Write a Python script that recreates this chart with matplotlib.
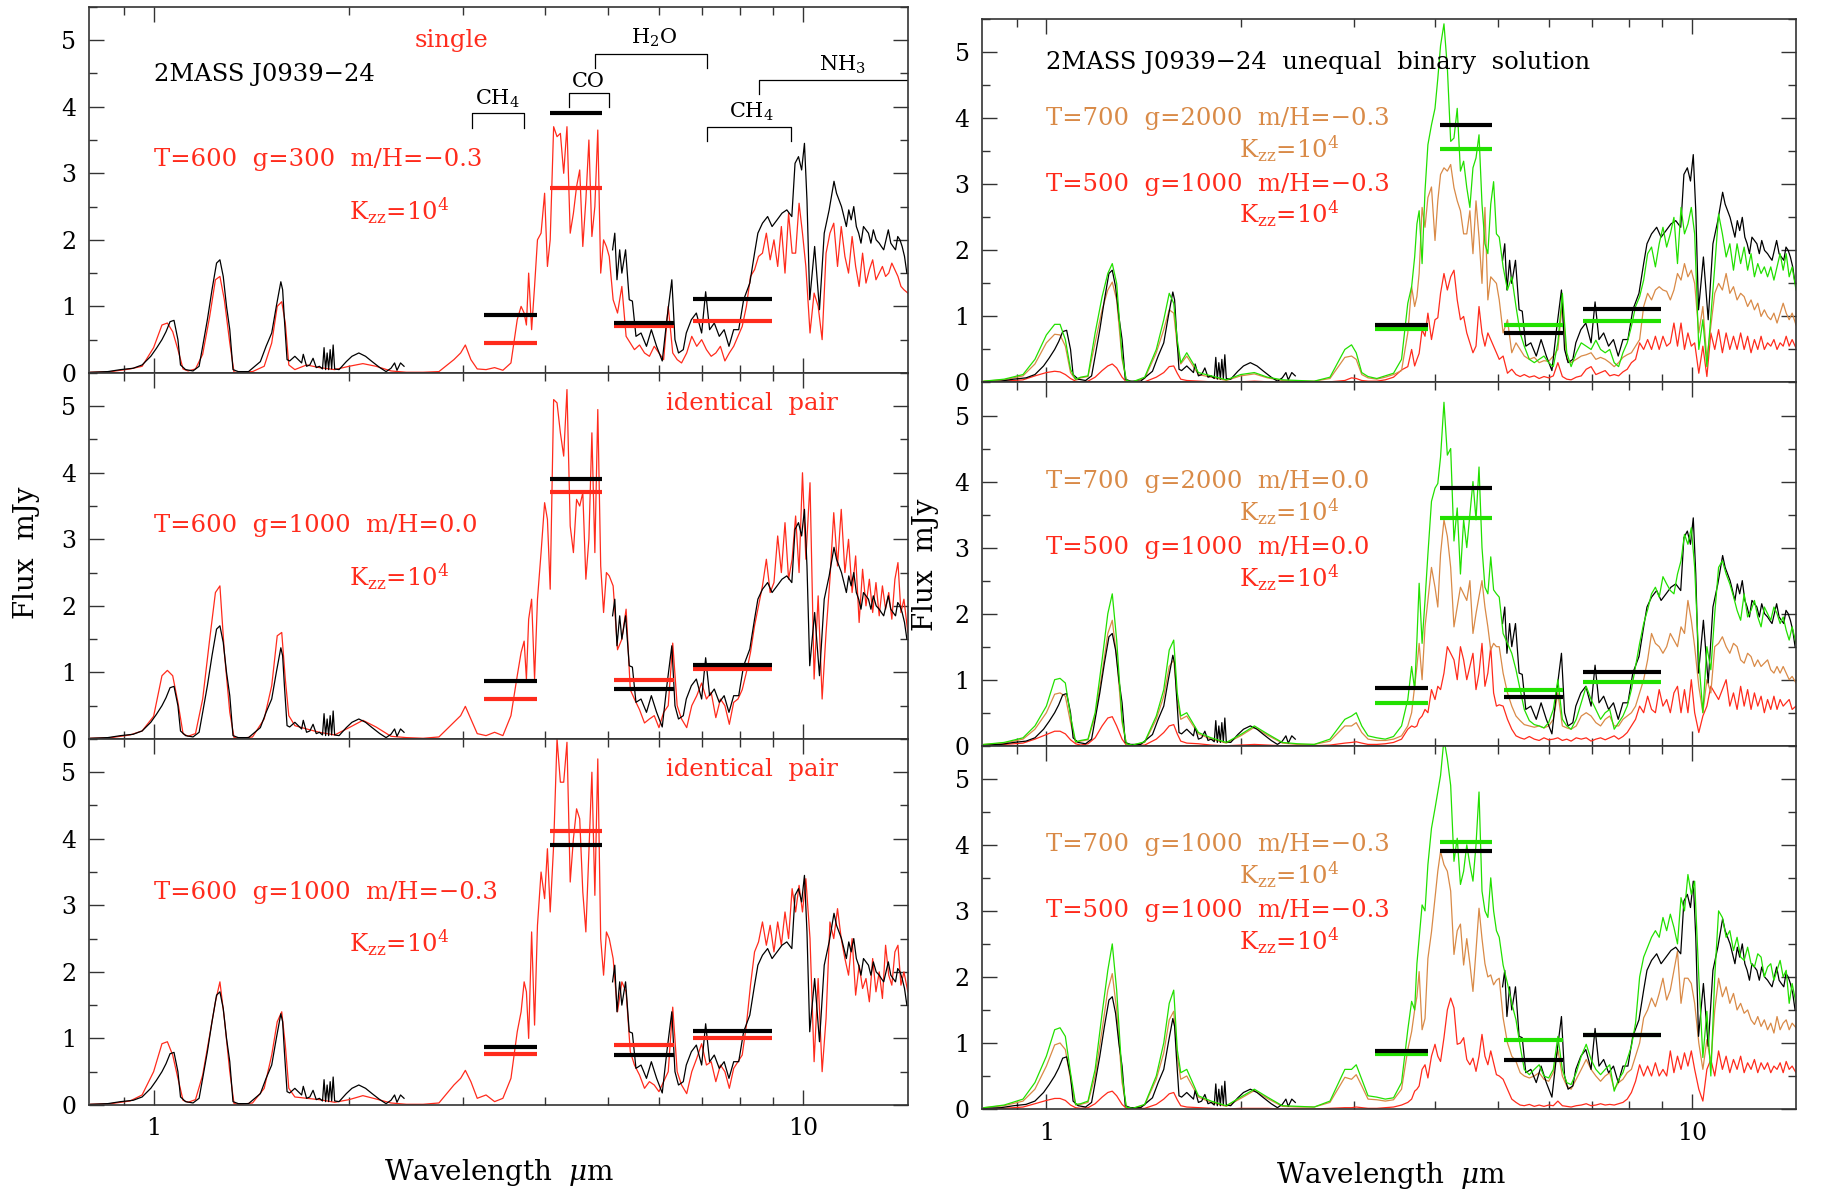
import numpy as np
import matplotlib
matplotlib.use('Agg')
import matplotlib.pyplot as plt
from matplotlib.ticker import FixedLocator, MultipleLocator

plt.rcParams.update({'font.family': 'DejaVu Serif', 'mathtext.fontset': 'dejavuserif',
                     'font.size': 17})

RED, ORANGE, GREEN, BLACK = '#ff2b1c', '#d98a47', '#22e000', 'black'

# ---------------- data ----------------
# model wavelength grid (micron): near-IR, 3-5 um, mid-IR
wl_model = [0.80, 0.86, 0.92, 0.96, 1.00, 1.03, 1.05, 1.07, 1.09, 1.11,
            1.13, 1.16, 1.19, 1.22, 1.245, 1.265, 1.285, 1.31, 1.33, 1.36,
            1.42, 1.48, 1.52, 1.55, 1.575, 1.595, 1.615, 1.65, 1.72, 1.80,
            1.90, 2.00, 2.10, 2.20, 2.32, 2.45, 2.60, 2.75, 2.90,
            2.97, 3.02, 3.08, 3.15, 3.25, 3.35, 3.45, 3.55, 3.63, 3.68,
            3.72, 3.75, 3.78, 3.82, 3.86, 3.90, 3.95, 4.00, 4.04, 4.08,
            4.13, 4.18, 4.23, 4.28, 4.33, 4.38, 4.43, 4.48, 4.53, 4.58,
            4.63, 4.68, 4.73, 4.78, 4.83, 4.88, 4.93, 4.98, 5.03,
            5.10, 5.18, 5.26, 5.34, 5.42, 5.50, 5.60, 5.70, 5.80, 5.90,
            6.00, 6.10, 6.20, 6.30, 6.40, 6.50, 6.62, 6.74, 6.86, 6.98,
            7.10, 7.22, 7.34, 7.46, 7.58, 7.70, 7.82, 7.94, 8.06, 8.18,
            8.30, 8.42, 8.54, 8.66, 8.78, 8.90, 9.02, 9.14, 9.26, 9.38,
            9.50, 9.62, 9.74, 9.86, 9.98, 10.1, 10.25, 10.4, 10.55, 10.7,
            10.85, 11.0, 11.15, 11.3, 11.45, 11.6, 11.75, 11.9, 12.05, 12.2,
            12.35, 12.5, 12.65, 12.8, 12.95, 13.1, 13.25, 13.4, 13.55, 13.7,
            13.85, 14.0, 14.15, 14.3, 14.5]

# left column: single / identical-pair models (red)
single_600_300 = [0.01, 0.02, 0.06, 0.10, 0.38, 0.72, 0.75, 0.62, 0.35, 0.06,
                  0.03, 0.06, 0.28, 0.85, 1.40, 1.45, 1.10, 0.45, 0.01, 0.01,
                  0.02, 0.10, 0.45, 1.00, 1.07, 0.75, 0.12, 0.05, 0.12, 0.08,
                  0.05, 0.10, 0.14, 0.10, 0.03, 0.01, 0.01, 0.02, 0.20,
                  0.30, 0.42, 0.20, 0.06, 0.05, 0.08, 0.04, 0.15, 0.80, 1.00,
                  0.90, 0.72, 1.50, 0.65, 1.30, 2.00, 2.10, 2.70, 1.60, 2.00,
                  3.70, 3.55, 3.60, 3.00, 3.70, 2.10, 2.40, 2.80, 3.05, 1.90,
                  2.60, 3.50, 2.05, 2.50, 3.65, 1.50, 2.00, 1.90, 1.75,
                  1.10, 0.90, 1.30, 0.55, 0.45, 0.35, 0.42, 0.30, 0.25, 0.40,
                  0.30, 0.20, 1.00, 0.30, 0.20, 0.15, 0.30, 0.55, 0.40, 0.50,
                  0.35, 0.25, 0.30, 0.40, 0.18, 0.30, 0.40, 0.55, 0.70, 1.00,
                  1.45, 1.55, 1.75, 1.80, 2.10, 1.70, 2.00, 1.60, 2.20, 1.50,
                  2.40, 1.80, 1.80, 2.55, 2.10, 1.60, 0.60, 1.20, 1.00, 0.50,
                  1.80, 2.10, 2.25, 1.60, 2.20, 1.75, 1.50, 2.05, 1.60, 1.30,
                  1.80, 1.35, 1.55, 1.70, 1.40, 1.50, 1.60, 1.45, 1.50, 1.65,
                  1.55, 1.45, 1.30, 1.25, 1.20]
pair_600_1000_00 = [0.01, 0.02, 0.06, 0.12, 0.34, 0.95, 1.03, 0.95, 0.55, 0.08,
                    0.04, 0.08, 0.60, 1.50, 2.20, 2.30, 1.30, 0.40, 0.02, 0.01,
                    0.03, 0.30, 0.80, 1.55, 1.60, 0.90, 0.35, 0.20, 0.15, 0.10,
                    0.06, 0.17, 0.28, 0.18, 0.04, 0.02, 0.01, 0.03, 0.25,
                    0.35, 0.49, 0.30, 0.08, 0.05, 0.10, 0.05, 0.35, 0.95, 1.30,
                    1.47, 0.90, 1.80, 2.10, 0.90, 2.10, 2.80, 3.55, 3.30, 2.25,
                    5.10, 5.05, 4.60, 4.25, 5.25, 3.20, 2.80, 3.60, 3.50, 3.70,
                    2.40, 3.00, 4.60, 2.80, 4.95, 2.60, 1.90, 2.50, 2.45,
                    2.30, 1.34, 1.50, 1.95, 0.74, 0.60, 0.44, 0.24, 0.30, 0.35,
                    0.17, 0.40, 0.50, 1.44, 0.50, 0.30, 0.17, 0.50, 0.65, 0.84,
                    0.60, 0.70, 0.32, 0.60, 0.50, 0.22, 0.55, 0.60, 0.74, 1.00,
                    1.30, 1.70, 2.00, 2.30, 2.70, 2.20, 2.35, 3.05, 2.50, 3.25,
                    2.40, 2.70, 3.35, 2.50, 4.00, 2.70, 3.85, 0.90, 2.15, 0.60,
                    1.60, 2.40, 3.40, 2.60, 3.45, 2.50, 3.00, 2.20, 2.75, 1.75,
                    2.55, 2.00, 2.40, 1.90, 2.35, 1.85, 2.30, 1.95, 2.20, 1.80,
                    2.40, 2.65, 1.90, 2.10, 1.60]
pair_600_1000_m03 = [0.01, 0.02, 0.06, 0.15, 0.50, 0.92, 0.95, 0.75, 0.40, 0.07,
                     0.04, 0.08, 0.45, 1.05, 1.55, 1.85, 1.30, 0.50, 0.02, 0.01,
                     0.03, 0.25, 0.75, 1.25, 1.40, 0.90, 0.25, 0.12, 0.10, 0.08,
                     0.04, 0.08, 0.14, 0.09, 0.03, 0.01, 0.01, 0.03, 0.30,
                     0.40, 0.52, 0.35, 0.10, 0.15, 0.05, 0.10, 0.40, 1.10, 1.40,
                     1.85, 1.70, 1.00, 2.60, 1.20, 2.70, 3.50, 3.10, 3.85, 2.90,
                     3.90, 5.50, 4.85, 4.85, 5.45, 3.35, 4.00, 4.45, 4.30, 3.20,
                     2.60, 3.80, 5.00, 3.15, 5.20, 2.50, 1.95, 2.60, 2.50,
                     2.20, 1.40, 1.85, 1.70, 0.80, 0.60, 0.45, 0.25, 0.35, 0.30,
                     0.20, 0.35, 0.50, 1.47, 0.50, 0.30, 0.17, 0.50, 0.70, 0.92,
                     0.60, 0.65, 0.35, 0.60, 0.50, 0.25, 0.55, 0.65, 0.75, 1.20,
                     1.80, 2.30, 2.45, 2.75, 2.40, 2.70, 2.30, 2.75, 2.40, 2.90,
                     2.50, 3.25, 2.90, 3.30, 2.90, 3.40, 2.50, 0.65, 1.90, 0.50,
                     1.30, 2.75, 2.50, 2.95, 2.50, 2.20, 1.95, 2.50, 1.65, 2.10,
                     1.75, 1.90, 1.55, 2.20, 1.70, 2.00, 1.60, 2.40, 1.95, 1.80,
                     2.30, 2.40, 1.80, 2.00, 1.70]

# right column: unequal binary (green = sum, orange = T700, red = T500)
bin1_sum = [0.02, 0.05, 0.12, 0.35, 0.72, 0.88, 0.88, 0.65, 0.20, 0.05,
            0.08, 0.10, 0.75, 1.30, 1.65, 1.80, 1.50, 0.40, 0.03, 0.01,
            0.08, 0.50, 0.95, 1.35, 1.20, 0.65, 0.30, 0.45, 0.15, 0.10,
            0.04, 0.12, 0.15, 0.08, 0.04, 0.03, 0.02, 0.08, 0.50,
            0.57, 0.45, 0.15, 0.09, 0.06, 0.10, 0.14, 0.35, 1.20, 1.45,
            1.90, 2.40, 2.60, 1.80, 2.90, 3.60, 3.90, 4.15, 4.60, 5.10,
            5.43, 4.77, 3.65, 3.70, 4.15, 3.20, 3.35, 2.95, 2.65, 3.25,
            3.40, 3.75, 2.70, 2.10, 1.95, 2.70, 3.04, 2.25, 2.20,
            1.75, 1.40, 1.60, 1.15, 0.75, 0.55, 0.35, 0.30, 0.35, 0.40,
            0.30, 0.24, 0.60, 1.35, 0.45, 0.24, 0.45, 0.60, 0.55, 0.50,
            0.64, 0.50, 0.45, 0.50, 0.30, 0.24, 0.45, 0.60, 0.85, 1.15,
            1.30, 1.55, 1.95, 2.05, 1.75, 2.10, 2.35, 2.05, 2.25, 2.50,
            1.80, 2.65, 2.25, 2.40, 2.65, 2.25, 0.50, 0.95, 0.24, 1.00,
            1.75, 2.55, 2.25, 1.90, 2.10, 1.70, 2.10, 1.80, 2.05, 1.70,
            1.95, 1.60, 1.80, 1.65, 1.75, 1.60, 1.75, 1.55, 1.75, 1.95,
            1.70, 1.95, 1.60, 1.75, 1.40]
bin1_hot = [0.02, 0.04, 0.10, 0.28, 0.60, 0.73, 0.72, 0.55, 0.15, 0.04,
            0.07, 0.09, 0.60, 1.10, 1.40, 1.52, 1.25, 0.35, 0.03, 0.01,
            0.06, 0.45, 0.80, 1.10, 1.05, 0.55, 0.28, 0.40, 0.12, 0.08,
            0.03, 0.10, 0.13, 0.07, 0.03, 0.02, 0.02, 0.06, 0.38,
            0.40, 0.35, 0.12, 0.07, 0.05, 0.08, 0.12, 0.18, 0.75, 1.45,
            1.15, 1.30, 1.65, 2.65, 2.35, 2.80, 2.96, 2.15, 2.75, 3.15,
            3.25, 3.20, 3.30, 2.95, 2.75, 2.60, 2.25, 2.25, 2.60, 1.95,
            2.75, 2.20, 1.50, 2.65, 1.25, 1.60, 1.55, 1.50, 1.25,
            0.75, 0.95, 0.45, 0.60, 0.50, 0.40, 0.35, 0.38, 0.30, 0.33,
            0.32, 0.40, 0.50, 1.20, 0.35, 0.30, 0.35, 0.40, 0.42, 0.45,
            0.35, 0.38, 0.35, 0.30, 0.24, 0.30, 0.38, 0.42, 0.45, 0.55,
            0.65, 1.15, 1.35, 1.25, 1.40, 1.45, 1.40, 1.38, 1.25, 1.40,
            1.65, 1.55, 1.80, 1.60, 1.70, 1.50, 0.75, 1.15, 0.35, 0.85,
            1.35, 1.50, 1.40, 1.65, 1.35, 1.45, 1.25, 1.35, 1.30, 1.15,
            1.25, 1.10, 1.20, 1.00, 1.10, 1.00, 0.95, 1.05, 0.90, 1.05,
            1.20, 1.05, 0.95, 1.05, 0.87]
bin1_cool = [0.01, 0.02, 0.04, 0.10, 0.15, 0.17, 0.16, 0.12, 0.06, 0.02,
             0.01, 0.02, 0.08, 0.18, 0.25, 0.28, 0.22, 0.08, 0.01, 0.00,
             0.01, 0.08, 0.15, 0.24, 0.25, 0.14, 0.05, 0.03, 0.02, 0.01,
             0.00, 0.01, 0.02, 0.01, 0.00, 0.00, 0.00, 0.01, 0.03,
             0.07, 0.06, 0.03, 0.02, 0.02, 0.04, 0.08, 0.19, 0.24, 0.50,
             0.25, 0.35, 0.44, 0.80, 0.70, 1.05, 0.65, 0.95, 0.98, 1.35,
             1.65, 1.40, 1.60, 1.70, 1.25, 0.95, 1.00, 0.75, 0.60, 0.45,
             0.55, 1.15, 0.75, 0.55, 0.75, 0.65, 0.55, 0.45, 0.35,
             0.40, 0.14, 0.20, 0.12, 0.09, 0.12, 0.08, 0.10, 0.06, 0.09,
             0.07, 0.10, 0.30, 0.09, 0.05, 0.04, 0.08, 0.10, 0.20, 0.24,
             0.12, 0.15, 0.18, 0.10, 0.12, 0.10, 0.16, 0.20, 0.30, 0.35,
             0.60, 0.50, 0.65, 0.50, 0.70, 0.50, 0.70, 0.55, 0.60, 0.90,
             0.55, 0.90, 0.50, 0.75, 0.55, 0.60, 0.14, 0.55, 0.09, 0.75,
             0.50, 0.80, 0.45, 0.75, 0.50, 0.70, 0.50, 0.75, 0.50, 0.70,
             0.45, 0.65, 0.50, 0.70, 0.50, 0.60, 0.55, 0.65, 0.50, 0.60,
             0.55, 0.70, 0.55, 0.65, 0.52]
bin2_sum = [0.02, 0.05, 0.12, 0.30, 0.60, 1.00, 1.02, 0.95, 0.45, 0.06,
            0.08, 0.10, 0.50, 1.30, 2.00, 2.30, 1.60, 0.40, 0.03, 0.01,
            0.06, 0.45, 0.85, 1.45, 1.60, 0.80, 0.45, 0.50, 0.20, 0.12,
            0.05, 0.17, 0.30, 0.18, 0.05, 0.03, 0.02, 0.10, 0.40,
            0.45, 0.50, 0.30, 0.15, 0.12, 0.10, 0.14, 0.30, 0.70, 1.20,
            0.85, 1.60, 2.46, 1.55, 2.20, 2.90, 3.70, 3.90, 3.97, 4.37,
            5.20, 4.40, 4.50, 3.10, 3.60, 2.60, 3.42, 3.00, 3.50, 4.00,
            3.42, 4.22, 3.00, 2.40, 2.30, 2.86, 2.36, 2.30, 2.25,
            1.70, 1.55, 1.40, 1.15, 0.85, 0.55, 0.38, 0.32, 0.30, 0.27,
            0.35, 0.55, 1.00, 0.40, 0.30, 0.25, 0.40, 0.65, 0.90, 0.70,
            0.55, 0.40, 0.50, 0.55, 0.25, 0.35, 0.45, 0.60, 0.85, 1.20,
            1.55, 1.85, 2.06, 2.30, 2.40, 2.25, 2.56, 2.45, 2.35, 2.30,
            2.60, 2.80, 3.20, 3.05, 3.30, 2.70, 1.30, 0.50, 1.50, 1.15,
            2.00, 2.70, 2.80, 2.60, 2.45, 2.26, 2.05, 1.90, 2.30, 1.95,
            2.05, 2.20, 1.95, 1.80, 2.10, 2.00, 1.90, 2.10, 2.00, 1.85,
            1.95, 1.75, 1.60, 1.80, 1.55]
bin2_hot = [0.02, 0.04, 0.10, 0.25, 0.50, 0.78, 0.80, 0.75, 0.35, 0.05,
            0.07, 0.09, 0.45, 1.10, 1.70, 1.90, 1.35, 0.35, 0.03, 0.01,
            0.05, 0.40, 0.75, 1.20, 1.30, 0.70, 0.40, 0.45, 0.18, 0.10,
            0.04, 0.15, 0.28, 0.16, 0.04, 0.02, 0.02, 0.07, 0.30,
            0.30, 0.35, 0.20, 0.10, 0.08, 0.08, 0.10, 0.15, 0.30, 0.50,
            0.90, 1.20, 1.55, 1.00, 1.80, 2.20, 2.70, 2.40, 2.10, 2.90,
            3.42, 3.17, 2.70, 1.80, 2.10, 2.40, 2.30, 2.20, 2.50, 1.70,
            2.00, 2.26, 2.50, 2.10, 1.80, 1.45, 1.55, 1.50, 1.50,
            1.10, 0.80, 0.60, 0.45, 0.38, 0.32, 0.30, 0.28, 0.30, 0.27,
            0.30, 0.40, 0.80, 0.30, 0.27, 0.25, 0.30, 0.45, 0.50, 0.45,
            0.35, 0.30, 0.40, 0.45, 0.30, 0.30, 0.40, 0.45, 0.50, 0.60,
            0.80, 1.00, 1.30, 1.70, 1.55, 1.50, 1.40, 1.50, 1.70, 1.60,
            1.50, 1.80, 1.70, 2.20, 1.90, 1.50, 0.90, 0.50, 1.00, 0.80,
            1.50, 1.55, 1.65, 1.50, 1.40, 1.55, 1.50, 1.30, 1.25, 1.40,
            1.35, 1.20, 1.30, 1.20, 1.25, 1.30, 1.15, 1.10, 1.20, 1.10,
            1.20, 1.10, 1.00, 1.05, 0.95]
bin2_cool = [0.01, 0.02, 0.04, 0.10, 0.17, 0.22, 0.22, 0.18, 0.09, 0.03,
             0.01, 0.03, 0.12, 0.30, 0.42, 0.44, 0.30, 0.10, 0.01, 0.00,
             0.01, 0.10, 0.20, 0.30, 0.32, 0.18, 0.07, 0.04, 0.03, 0.01,
             0.00, 0.01, 0.02, 0.01, 0.00, 0.00, 0.00, 0.01, 0.04,
             0.05, 0.06, 0.04, 0.02, 0.02, 0.03, 0.05, 0.10, 0.25, 0.30,
             0.28, 0.30, 0.40, 0.45, 0.55, 0.50, 0.85, 0.70, 0.90, 0.85,
             1.10, 1.50, 1.40, 1.30, 1.00, 1.50, 1.30, 1.00, 1.20, 1.40,
             0.85, 1.10, 1.55, 0.90, 1.10, 1.50, 0.80, 0.60, 0.62,
             0.60, 0.40, 0.25, 0.15, 0.12, 0.10, 0.14, 0.10, 0.08, 0.12,
             0.09, 0.10, 0.12, 0.08, 0.10, 0.07, 0.12, 0.10, 0.12, 0.07,
             0.10, 0.12, 0.09, 0.12, 0.15, 0.10, 0.14, 0.20, 0.30, 0.40,
             0.60, 0.50, 0.75, 0.55, 0.50, 0.85, 0.60, 0.70, 0.50, 0.80,
             0.90, 0.50, 0.85, 0.50, 1.00, 0.50, 0.20, 0.45, 0.60, 0.90,
             0.80, 0.70, 0.85, 1.00, 0.60, 0.80, 0.55, 0.90, 0.60, 0.85,
             0.55, 0.80, 0.60, 0.75, 0.50, 0.70, 0.55, 0.75, 0.55, 0.70,
             0.60, 0.65, 0.70, 0.55, 0.60]
bin3_sum = [0.02, 0.06, 0.15, 0.40, 0.80, 1.20, 1.23, 1.10, 0.55, 0.07,
            0.08, 0.12, 0.60, 1.45, 2.10, 2.50, 1.80, 0.50, 0.03, 0.01,
            0.07, 0.50, 1.00, 1.60, 1.80, 0.90, 0.55, 0.60, 0.20, 0.12,
            0.05, 0.18, 0.30, 0.18, 0.05, 0.04, 0.03, 0.12, 0.60,
            0.60, 0.67, 0.45, 0.20, 0.18, 0.15, 0.17, 0.40, 1.20, 1.63,
            1.50, 2.20, 2.58, 3.09, 3.00, 3.70, 4.25, 4.55, 4.80, 5.05,
            5.60, 5.30, 4.90, 3.75, 4.10, 3.40, 3.60, 4.00, 3.70, 3.45,
            4.00, 4.80, 3.30, 3.00, 2.90, 3.50, 3.00, 2.70, 2.60,
            2.18, 1.90, 1.60, 1.35, 0.95, 0.60, 0.52, 0.60, 0.67, 0.50,
            0.47, 0.60, 1.10, 0.60, 0.40, 0.37, 0.55, 0.80, 0.98, 0.75,
            0.60, 0.52, 0.60, 0.67, 0.27, 0.45, 0.55, 0.75, 0.95, 1.30,
            2.00, 2.30, 2.45, 2.60, 2.70, 2.60, 2.90, 2.70, 2.95, 2.75,
            2.50, 3.20, 3.00, 3.55, 3.25, 3.45, 2.00, 0.78, 1.48, 0.50,
            2.00, 3.00, 2.90, 2.60, 2.70, 2.40, 2.60, 2.30, 2.25, 2.45,
            2.20, 2.15, 2.35, 2.30, 2.00, 2.15, 2.20, 1.95, 2.10, 2.25,
            2.00, 2.10, 1.60, 1.90, 1.60]
bin3_hot = [0.02, 0.05, 0.12, 0.30, 0.65, 0.97, 1.00, 0.90, 0.45, 0.06,
            0.07, 0.10, 0.50, 1.20, 1.80, 2.05, 1.50, 0.40, 0.03, 0.01,
            0.06, 0.45, 0.85, 1.35, 1.48, 0.80, 0.45, 0.50, 0.18, 0.10,
            0.04, 0.16, 0.28, 0.16, 0.04, 0.03, 0.03, 0.10, 0.48,
            0.45, 0.52, 0.35, 0.15, 0.14, 0.12, 0.14, 0.30, 0.90, 1.17,
            1.50, 1.70, 2.08, 1.20, 1.37, 2.28, 2.68, 3.20, 3.60, 3.90,
            3.70, 3.60, 3.30, 2.34, 2.70, 2.80, 2.18, 2.58, 2.20, 1.78,
            2.40, 3.04, 2.58, 2.20, 2.00, 2.03, 1.88, 1.95, 1.98,
            1.38, 1.00, 0.80, 0.72, 0.55, 0.50, 0.47, 0.50, 0.55, 0.45,
            0.42, 0.55, 0.90, 0.50, 0.35, 0.30, 0.45, 0.60, 0.75, 0.60,
            0.50, 0.42, 0.50, 0.55, 0.30, 0.40, 0.45, 0.55, 0.60, 0.80,
            1.00, 1.38, 1.50, 1.68, 1.55, 1.75, 1.98, 1.65, 1.80, 2.10,
            2.39, 1.60, 1.98, 1.98, 1.90, 1.60, 1.00, 0.60, 1.05, 0.70,
            1.50, 1.98, 1.70, 1.85, 1.60, 1.75, 1.50, 1.60, 1.45, 1.50,
            1.35, 1.28, 1.40, 1.25, 1.35, 1.20, 1.30, 1.15, 1.40, 1.20,
            1.30, 1.35, 1.20, 1.30, 1.23]
bin3_cool = [0.00, 0.01, 0.03, 0.08, 0.13, 0.16, 0.16, 0.13, 0.06, 0.02,
             0.01, 0.02, 0.08, 0.18, 0.25, 0.27, 0.20, 0.07, 0.01, 0.00,
             0.01, 0.07, 0.15, 0.23, 0.25, 0.14, 0.05, 0.03, 0.02, 0.01,
             0.00, 0.01, 0.01, 0.01, 0.00, 0.00, 0.00, 0.01, 0.02,
             0.02, 0.03, 0.02, 0.01, 0.01, 0.02, 0.03, 0.06, 0.10, 0.15,
             0.27, 0.30, 0.35, 0.60, 0.67, 0.47, 0.80, 0.98, 0.80, 0.72,
             1.08, 1.50, 1.68, 1.53, 0.98, 1.00, 1.08, 0.75, 0.67, 0.77,
             0.57, 0.80, 1.13, 0.80, 0.67, 0.88, 0.70, 0.52, 0.50,
             0.45, 0.30, 0.15, 0.10, 0.06, 0.05, 0.07, 0.04, 0.06, 0.04,
             0.06, 0.05, 0.12, 0.05, 0.04, 0.03, 0.05, 0.06, 0.08, 0.05,
             0.06, 0.08, 0.06, 0.07, 0.06, 0.08, 0.10, 0.15, 0.25, 0.42,
             0.67, 0.50, 0.65, 0.50, 0.70, 0.50, 0.60, 0.50, 0.88, 0.55,
             0.80, 0.60, 0.85, 0.65, 0.88, 0.60, 0.30, 0.12, 0.60, 0.75,
             0.50, 0.88, 0.60, 0.80, 0.55, 0.75, 0.60, 0.80, 0.55, 0.70,
             0.60, 0.75, 0.55, 0.70, 0.60, 0.70, 0.55, 0.65, 0.60, 0.70,
             0.55, 0.72, 0.60, 0.65, 0.55]

# observed spectrum of 2MASS J0939-24 (near-IR and Spitzer IRS)
obs_nir_wl = [0.80, 0.85, 0.89, 0.93, 0.96, 0.99, 1.01, 1.03, 1.045, 1.06,
              1.075, 1.09, 1.10, 1.12, 1.15, 1.175, 1.19, 1.21, 1.23, 1.25,
              1.265, 1.28, 1.295, 1.31, 1.325, 1.35, 1.40, 1.46, 1.49, 1.52,
              1.545, 1.57, 1.58, 1.59, 1.605, 1.62, 1.65, 1.69, 1.70, 1.72,
              1.74, 1.76, 1.78, 1.80, 1.82, 1.83, 1.84, 1.85, 1.86, 1.87,
              1.88, 1.89, 1.90, 1.93, 1.98, 2.02, 2.07, 2.12, 2.17, 2.23,
              2.28, 2.32, 2.35, 2.37, 2.40, 2.43]
obs_nir_flux = [0.01, 0.02, 0.05, 0.07, 0.12, 0.25, 0.37, 0.50, 0.62, 0.77,
                0.79, 0.50, 0.12, 0.05, 0.03, 0.10, 0.40, 0.80, 1.25, 1.65,
                1.70, 1.45, 1.00, 0.65, 0.05, 0.02, 0.02, 0.17, 0.40, 0.60,
                1.00, 1.37, 1.25, 0.80, 0.20, 0.18, 0.25, 0.15, 0.28, 0.10,
                0.12, 0.22, 0.08, 0.10, 0.06, 0.38, 0.05, 0.30, 0.05, 0.35,
                0.06, 0.42, 0.06, 0.05, 0.17, 0.25, 0.30, 0.25, 0.17, 0.08,
                0.02, 0.07, 0.15, 0.04, 0.15, 0.10]
obs_mir_wl = [5.09, 5.13, 5.17, 5.22, 5.26, 5.33, 5.40, 5.46, 5.53, 5.63,
              5.74, 5.84, 5.95, 6.07, 6.17, 6.28, 6.35, 6.43, 6.54, 6.61,
              6.73, 6.85, 6.98, 7.08, 7.18, 7.30, 7.43, 7.56, 7.69, 7.82,
              7.96, 8.10, 8.28, 8.42, 8.52, 8.66, 8.82, 8.96, 9.12, 9.28,
              9.44, 9.61, 9.72, 9.84, 9.95, 10.05, 10.14, 10.24, 10.42, 10.60,
              10.78, 10.97, 11.16, 11.26, 11.36, 11.46, 11.56, 11.66, 11.76, 11.86,
              11.97, 12.08, 12.18, 12.28, 12.39, 12.50, 12.61, 12.72, 12.83, 12.96,
              13.10, 13.20, 13.31, 13.42, 13.53, 13.65, 13.76, 13.88, 13.99, 14.10,
              14.21, 14.33, 14.45]
obs_mir_flux = [1.85, 2.10, 1.40, 1.85, 1.50, 1.85, 1.10, 1.08, 0.55, 0.60,
                0.40, 0.65, 0.40, 0.18, 0.80, 1.40, 0.50, 0.30, 0.35, 0.60,
                0.80, 0.90, 0.60, 1.22, 0.65, 0.75, 0.55, 0.65, 0.40, 0.65,
                0.65, 1.10, 1.35, 1.80, 2.10, 2.25, 2.35, 2.20, 2.30, 2.40,
                2.45, 2.35, 3.15, 3.25, 3.05, 3.45, 2.60, 1.10, 1.90, 0.95,
                2.10, 2.45, 2.88, 2.70, 2.60, 2.50, 2.35, 2.20, 2.45, 2.30,
                2.50, 2.20, 2.10, 1.95, 2.20, 2.15, 2.10, 1.95, 2.15, 2.00,
                1.95, 1.90, 1.85, 2.00, 2.15, 1.95, 1.90, 1.85, 2.05, 2.00,
                1.90, 1.75, 1.50]

# IRAC photometry (band edges in micron) and fluxes
irac_lo = [3.23, 4.07, 5.12, 6.77]
irac_hi = [3.90, 4.91, 6.32, 8.96]
irac_obs = [0.875, 3.90, 0.745, 1.115]
irac_single = [0.45, 2.775, 0.70, 0.785]
irac_pair_00 = [0.60, 3.71, 0.88, 1.05]
irac_pair_m03 = [0.77, 4.12, 0.90, 1.01]
irac_bin1 = [0.805, 3.535, 0.866, 0.936]
irac_bin2 = [0.65, 3.45, 0.84, 0.97]
irac_bin3 = [0.83, 4.05, 1.05, 1.12]

# ---------------- figure ----------------
fig = plt.figure(figsize=(18.37, 11.93), dpi=100)


def setup(ax, bottom):
    ax.set_xscale('log')
    ax.set_xlim(0.795, 14.5)
    ax.set_ylim(0, 5.5)
    ax.xaxis.set_major_locator(FixedLocator([1, 10]))
    ax.xaxis.set_minor_locator(FixedLocator([0.9, 2, 3, 4, 5, 6, 7, 8, 9]))
    ax.xaxis.set_major_formatter(plt.FixedFormatter(['1', '10']))
    ax.xaxis.set_minor_formatter(plt.NullFormatter())
    ax.yaxis.set_major_locator(MultipleLocator(1))
    ax.yaxis.set_minor_locator(MultipleLocator(0.5))
    ax.tick_params(which='both', direction='in', top=True, right=True,
                   width=1.0, color='#333333', labelsize=17)
    ax.tick_params(which='major', length=10.5)
    ax.tick_params(which='minor', length=5.5)
    ax.tick_params(axis='x', pad=9, labelbottom=bottom)
    ax.tick_params(axis='y', pad=9)
    for s in ax.spines.values():
        s.set_linewidth(1.2)
        s.set_color('#333333')


def phot(ax, vals, color):
    ax.hlines(vals, irac_lo, irac_hi, color=color, lw=3.0, zorder=5)


lh, lb = 0.3068, 0.0738
left_axes = [fig.add_axes([0.0484, lb + k * lh, 0.4458, lh]) for k in (2, 1, 0)]
rh, rb = 0.3045, 0.0704
right_axes = [fig.add_axes([0.5346, rb + k * rh, 0.4431, rh]) for k in (2, 1, 0)]

# left column
left_models = [single_600_300, pair_600_1000_00, pair_600_1000_m03]
left_phot = [irac_single, irac_pair_00, irac_pair_m03]
left_text = ['T=600  g=300  m/H=\u22120.3', 'T=600  g=1000  m/H=0.0',
             'T=600  g=1000  m/H=\u22120.3']
for i, ax in enumerate(left_axes):
    setup(ax, i == 2)
    ax.plot(wl_model, left_models[i], color=RED, lw=0.9)
    ax.plot(obs_nir_wl, obs_nir_flux, color=BLACK, lw=0.9)
    ax.plot(obs_mir_wl, obs_mir_flux, color=BLACK, lw=0.9)
    phot(ax, left_phot[i], RED)
    phot(ax, irac_obs, BLACK)
    ax.text(1.0, 3.2, left_text[i], color=RED, fontsize=17.5, va='center')
    ax.text(2.0, 2.43, r'K$_{\rm zz}$=10$^4$', color=RED, fontsize=17.5, va='center')
    if i > 0:
        ax.text(8.33, 5.04, 'identical  pair', color=RED, fontsize=17.5,
                ha='center', va='center')

ax = left_axes[0]
ax.text(2.88, 5.0, 'single', color=RED, fontsize=17.5, ha='center', va='center')
ax.text(1.0, 4.49, '2MASS J0939\u221224', color=BLACK, fontsize=17.5, va='center')
# absorption band brackets
bands = [(3.09, 3.72, 3.90, 3.685, 3.38, 4.12, r'CH$_4$'),
         (4.36, 5.02, 4.20, 3.99, 4.67, 4.375, 'CO'),
         (4.79, 7.11, 4.80, 4.585, 5.90, 5.03, r'H$_2$O'),
         (7.11, 9.58, 3.69, 3.485, 8.32, 3.925, r'CH$_4$'),
         (8.55, 16.0, 4.395, 4.19, 11.48, 4.625, r'NH$_3$')]
for x0, x1, yt, yb, xl, yl, lab in bands:
    ax.plot([x0, x0, x1, x1], [yb, yt, yt, yb], color=BLACK, lw=0.9)
    ax.text(xl, yl, lab, color=BLACK, fontsize=15, ha='center', va='center')

# right column
right_sets = [(bin1_sum, bin1_hot, bin1_cool, irac_bin1),
              (bin2_sum, bin2_hot, bin2_cool, irac_bin2),
              (bin3_sum, bin3_hot, bin3_cool, irac_bin3)]
hot_text = ['T=700  g=2000  m/H=\u22120.3', 'T=700  g=2000  m/H=0.0',
            'T=700  g=1000  m/H=\u22120.3']
cool_text = ['T=500  g=1000  m/H=\u22120.3', 'T=500  g=1000  m/H=0.0',
             'T=500  g=1000  m/H=\u22120.3']
for i, ax in enumerate(right_axes):
    setup(ax, i == 2)
    tot, hot, cool, ph = right_sets[i]
    ax.plot(wl_model, cool, color=RED, lw=0.9)
    ax.plot(wl_model, hot, color=ORANGE, lw=0.9)
    ax.plot(obs_nir_wl, obs_nir_flux, color=BLACK, lw=0.9)
    ax.plot(obs_mir_wl, obs_mir_flux, color=BLACK, lw=0.9)
    ax.plot(wl_model, tot, color=GREEN, lw=0.9)
    phot(ax, ph, GREEN)
    phot(ax, irac_obs, BLACK)
    ax.text(1.0, 4.0, hot_text[i], color=ORANGE, fontsize=17.5, va='center')
    ax.text(1.99, 3.54, r'K$_{\rm zz}$=10$^4$', color=ORANGE, fontsize=17.5, va='center')
    ax.text(1.0, 3.0, cool_text[i], color=RED, fontsize=17.5, va='center')
    ax.text(1.99, 2.55, r'K$_{\rm zz}$=10$^4$', color=RED, fontsize=17.5, va='center')

right_axes[0].text(1.0, 4.84, '2MASS J0939\u221224  unequal  binary  solution',
                   color=BLACK, fontsize=17.5, va='center')

fig.text(0.0142, 0.5365, 'Flux  mJy', rotation=90, fontsize=20, ha='center', va='center')
fig.text(0.504, 0.5266, 'Flux  mJy', rotation=90, fontsize=20, ha='center', va='center')
fig.text(0.272, 0.0176, r'Wavelength  $\mu$m', fontsize=20, ha='center', va='center')
fig.text(0.7575, 0.0143, r'Wavelength  $\mu$m', fontsize=20, ha='center', va='center')

fig.savefig('out.png', dpi=100)
